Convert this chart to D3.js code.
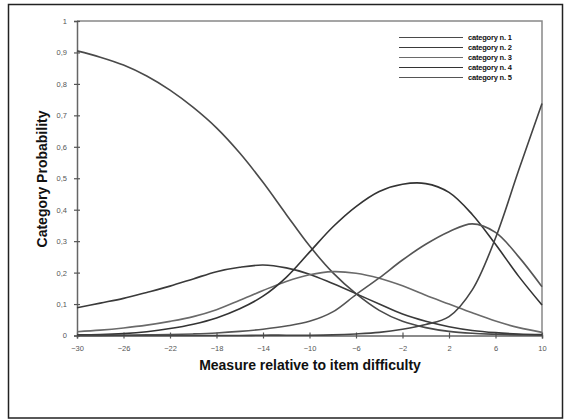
<!DOCTYPE html>
<html>
<head>
<meta charset="utf-8">
<script src="https://cdn.jsdelivr.net/npm/d3@7"></script>
<style>
  body { margin: 0; background: #fff; }
  svg { display: block; }
</style>
</head>
<body>
<script>
var W = 564, H = 420;

// measure relative to item difficulty
var xs = [-30, -28, -26, -24, -22, -20, -18, -16, -14, -12, -10, -8, -6, -4, -2, 0, 2, 4, 6, 8, 10];

// category probability curves
var cat1 = [0.905, 0.885, 0.86, 0.825, 0.78, 0.725, 0.66, 0.58, 0.487, 0.385, 0.285, 0.2, 0.133, 0.08, 0.045, 0.025, 0.013, 0.007, 0.004, 0.002, 0.001];
var cat2 = [0.088, 0.103, 0.118, 0.137, 0.157, 0.18, 0.203, 0.217, 0.224, 0.215, 0.195, 0.165, 0.133, 0.1, 0.068, 0.045, 0.028, 0.016, 0.009, 0.005, 0.003];
var cat3 = [0.012, 0.017, 0.024, 0.033, 0.045, 0.06, 0.082, 0.112, 0.143, 0.172, 0.193, 0.203, 0.198, 0.182, 0.158, 0.128, 0.1, 0.072, 0.046, 0.025, 0.01];
var cat4 = [0.002, 0.003, 0.006, 0.012, 0.022, 0.036, 0.056, 0.085, 0.125, 0.185, 0.265, 0.345, 0.41, 0.458, 0.481, 0.483, 0.455, 0.385, 0.29, 0.188, 0.097];
var cat5 = [0, 0, 0.001, 0.002, 0.003, 0.005, 0.008, 0.013, 0.02, 0.03, 0.045, 0.075, 0.13, 0.183, 0.24, 0.29, 0.33, 0.355, 0.328, 0.25, 0.155];
var cat6 = [0, 0, 0, 0, 0, 0, 0, 0, 0.001, 0.001, 0.001, 0.002, 0.005, 0.01, 0.02, 0.035, 0.06, 0.145, 0.31, 0.526, 0.738];

var series = [cat1, cat2, cat3, cat4, cat5, cat6];
var lineColors = ["#4a4a4a", "#3a3a3a", "#6a6a6a", "#333333", "#555555", "#444444"];

var xTicks = [-30, -26, -22, -18, -14, -10, -6, -2, 2, 6, 10];
var yTicks = [0, 0.1, 0.2, 0.3, 0.4, 0.5, 0.6, 0.7, 0.8, 0.9, 1];
var yTickLabels = ["0", "0,1", "0,2", "0,3", "0,4", "0,5", "0,6", "0,7", "0,8", "0,9", "1"];

var legendLabels = ["category n. 1", "category n. 2", "category n. 3", "category n. 4", "category n. 5"];

var plotLeft = 77, plotRight = 542, plotTop = 21, plotBottom = 335.5;

var svg = d3.select("body").append("svg")
  .attr("width", W)
  .attr("height", H)
  .style("font-family", "'Liberation Sans', Arial, sans-serif");

// outer frame
svg.append("rect")
  .attr("x", 8.5).attr("y", 4.5)
  .attr("width", 554).attr("height", 413.5)
  .attr("fill", "none")
  .attr("stroke", "#222")
  .attr("stroke-width", 1.5);

var x = d3.scaleLinear().domain([-30, 10]).range([plotLeft, plotRight]);
var y = d3.scaleLinear().domain([0, 1]).range([plotBottom, plotTop]);

// plot box (top and right edges)
svg.append("path")
  .attr("d", "M" + plotLeft + "," + plotTop + "H" + plotRight + "V" + plotBottom)
  .attr("fill", "none")
  .attr("stroke", "#888")
  .attr("stroke-width", 1.5);

var xAxis = svg.append("g")
  .attr("transform", "translate(0," + plotBottom + ")")
  .call(d3.axisBottom(x).tickValues(xTicks).tickSize(3).tickPadding(7));

var yAxis = svg.append("g")
  .attr("transform", "translate(" + plotLeft + ",0)")
  .call(d3.axisLeft(y).tickValues(yTicks).tickSize(3).tickPadding(7)
    .tickFormat(function (d, i) { return yTickLabels[i]; }));

// ticks cross the axis line
[xAxis, yAxis].forEach(function (g) {
  g.select(".domain").attr("stroke", "#666").attr("stroke-width", 1.5);
  g.selectAll(".tick line").attr("stroke", "#555").attr("stroke-width", 1.2);
  g.selectAll(".tick text").attr("fill", "#555").style("font-size", "7.5px");
});
xAxis.selectAll(".tick line").attr("y1", -3);
yAxis.selectAll(".tick line").attr("x1", 3);

var line = d3.line()
  .x(function (d, i) { return x(xs[i]); })
  .y(function (d) { return y(d); })
  .curve(d3.curveCatmullRom.alpha(0.5));

svg.append("g").selectAll("path")
  .data(series)
  .join("path")
  .attr("d", line)
  .attr("fill", "none")
  .attr("stroke", function (d, i) { return lineColors[i]; })
  .attr("stroke-width", 1.6);

// legend
var legend = svg.append("g");
legendLabels.forEach(function (label, i) {
  var ly = 37.5 + i * 10;
  legend.append("line")
    .attr("x1", 399).attr("x2", 463)
    .attr("y1", ly).attr("y2", ly)
    .attr("stroke", lineColors[i])
    .attr("stroke-width", 1);
  legend.append("text")
    .attr("x", 468).attr("y", ly + 2.5)
    .style("font-size", "7.5px")
    .style("font-weight", "bold")
    .style("letter-spacing", "-0.2px")
    .attr("fill", "#111")
    .text(label);
});

// axis titles
svg.append("text")
  .attr("x", 310).attr("y", 370)
  .attr("text-anchor", "middle")
  .style("font-size", "14px")
  .style("font-weight", "bold")
  .attr("fill", "#111")
  .text("Measure relative to item difficulty");

svg.append("text")
  .attr("transform", "translate(47,179) rotate(-90)")
  .attr("text-anchor", "middle")
  .style("font-size", "14px")
  .style("font-weight", "bold")
  .attr("fill", "#111")
  .text("Category Probability");
</script>
</body>
</html>
